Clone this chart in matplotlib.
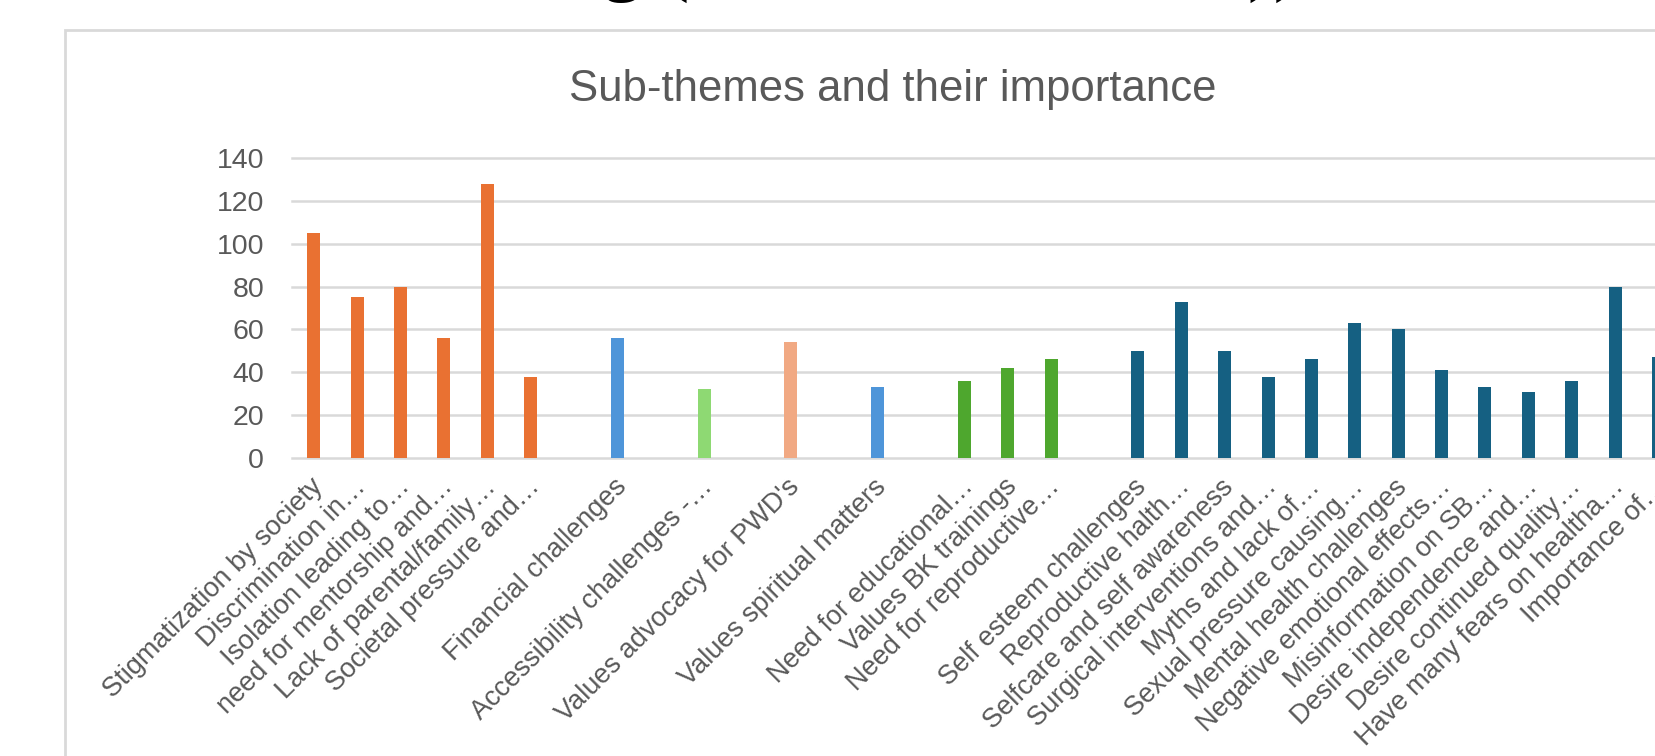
import matplotlib
matplotlib.use("Agg")
import matplotlib.pyplot as plt
from matplotlib.patches import Rectangle
from matplotlib.transforms import ScaledTranslation

# one slot per category, empty slots separate the themes
labels = [
    "Stigmatization by society", "Discrimination in\u2026", "Isolation leading to\u2026",
    "need for mentorship and\u2026", "Lack of parental/family\u2026", "Societal pressure and\u2026",
    "",
    "Financial challenges",
    "",
    "Accessibility challenges -\u2026",
    "",
    "Values advocacy for PWD's",
    "",
    "Values spiritual matters",
    "",
    "Need for educational\u2026", "Values BK trainings", "Need for reproductive\u2026",
    "",
    "Self esteem challenges", "Reproductive halth\u2026", "Selfcare and self awareness",
    "Surgical interventions and\u2026", "Myths and lack of\u2026", "Sexual pressure causing\u2026",
    "Mental health challenges", "Negative emotional effects\u2026", "Misinformation on SB\u2026",
    "Desire independence and\u2026", "Desire continued quality\u2026", "Have many fears on healtha\u2026",
    "Importance of\u2026",
]
values = [
    105, 75, 80, 56, 128, 38,
    None,
    56,
    None,
    32,
    None,
    54,
    None,
    33,
    None,
    36, 42, 46,
    None,
    50, 73, 50, 38, 46, 63, 60, 41, 33, 31, 36, 80, 47,
]
theme = [
    "social", "social", "social", "social", "social", "social",
    None,
    "economic",
    None,
    "access",
    None,
    "advocacy",
    None,
    "spiritual",
    None,
    "education", "education", "education",
    None,
    "health", "health", "health", "health", "health", "health", "health",
    "health", "health", "health", "health", "health", "health",
]
theme_colors = {
    "social": "#E97132",
    "economic": "#4E95D9",
    "access": "#8ED973",
    "advocacy": "#F1A983",
    "spiritual": "#4E95D9",
    "education": "#4EA72E",
    "health": "#156082",
}
yticks = [0, 20, 40, 60, 80, 100, 120, 140]

W, H = 1655, 756
grey = "#595959"
plt.rcParams["font.family"] = ["Liberation Sans", "DejaVu Sans"]

fig = plt.figure(figsize=(W / 100, H / 100), dpi=100)

# chart area frame (cropped on the right and bottom)
fig.patches.append(Rectangle((65 / W, -0.2), 2.0, (H - 30) / H + 0.2,
                             transform=fig.transFigure, fill=False,
                             ec="#d9d9d9", lw=2))

# heading of the document above the chart, mostly cut off
fig.text(602 / W, 1 + 13 / H, "g (", family="Liberation Serif", fontsize=58,
         va="baseline", ha="left", color="black")
fig.text(1247 / W, 1 + 13 / H, "))", family="Liberation Serif", fontsize=58,
         va="baseline", ha="left", color="black")

fig.text(893 / W, (H - 101) / H, "Sub-themes and their importance",
         ha="center", va="baseline", fontsize=31.5, color=grey)

pitch = 43.38
n = len(labels)
ax = fig.add_axes([292 / W, (H - 458) / H, n * pitch / W, 300 / H])

xs = [i for i, v in enumerate(values) if v is not None]
hs = [values[i] for i in xs]
cs = [theme_colors[theme[i]] for i in xs]
ax.bar(xs, hs, width=0.3, color=cs, zorder=3)

ax.set_xlim(-0.5, n - 0.5)
ax.set_ylim(0, 140)
ax.set_yticks(yticks)
ax.set_xticks(range(n))
ax.set_xticklabels(labels)
ax.yaxis.grid(True, color="#d9d9d9", lw=1.8, zorder=0)
for line in ax.get_ygridlines():
    line.set_clip_on(False)
for s in ax.spines.values():
    s.set_visible(False)
ax.tick_params(axis="y", length=0, labelsize=20.5, labelcolor=grey, pad=20)
ax.tick_params(axis="x", length=0, labelsize=19.5, labelcolor=grey, pad=18)
shift = ScaledTranslation(5 / 100, 0, fig.dpi_scale_trans)
for lab in ax.get_xticklabels():
    lab.set_rotation(45)
    lab.set_ha("right")
    lab.set_va("center")
    lab.set_rotation_mode("anchor")
    lab.set_transform(lab.get_transform() + shift)

fig.savefig("out.png", dpi=100)
